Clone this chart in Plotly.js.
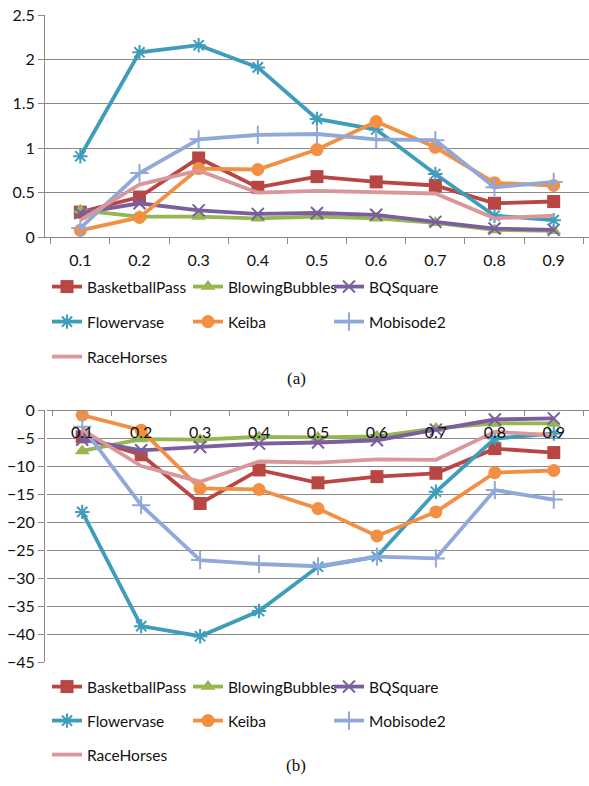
<!DOCTYPE html>
<html>
<head>
<meta charset="utf-8">
<script src="https://cdn.plot.ly/plotly-3.0.1.min.js"></script>
<style>html,body{margin:0;padding:0;background:#fff;}#chart{width:589px;height:786px;}</style>
</head>
<body>
<div id="chart"></div>
<script>
const categories = ['0.1','0.2','0.3','0.4','0.5','0.6','0.7','0.8','0.9'];
const seriesNames = ['BasketballPass','BlowingBubbles','BQSquare','Flowervase','Keiba','Mobisode2','RaceHorses'];

// (a) values
const aBasketballPass = [0.28,0.45,0.89,0.56,0.68,0.62,0.58,0.38,0.40];
const aBlowingBubbles = [0.30,0.23,0.23,0.21,0.23,0.21,0.16,0.08,0.07];
const aBQSquare       = [0.27,0.38,0.30,0.26,0.27,0.25,0.17,0.095,0.08];
const aFlowervase     = [0.91,2.08,2.16,1.91,1.33,1.21,0.71,0.24,0.19];
const aKeiba          = [0.075,0.22,0.77,0.76,0.985,1.30,1.01,0.61,0.58];
const aMobisode2      = [0.10,0.72,1.10,1.15,1.16,1.10,1.09,0.56,0.62];
const aRaceHorses     = [0.19,0.59,0.75,0.50,0.52,0.51,0.49,0.21,0.24];

// (b) values
const bBasketballPass = [-4.8,-8.0,-16.7,-10.7,-13.0,-11.9,-11.3,-6.9,-7.6];
const bBlowingBubbles = [-7.3,-5.2,-5.3,-4.8,-4.9,-4.7,-3.3,-2.4,-2.4];
const bBQSquare       = [-5.3,-7.2,-6.6,-6.0,-5.8,-5.4,-3.5,-1.7,-1.5];
const bFlowervase     = [-18.2,-38.6,-40.4,-35.9,-28.0,-26.2,-14.6,-5.1,-4.2];
const bKeiba          = [-0.9,-3.6,-14.0,-14.2,-17.6,-22.5,-18.2,-11.2,-10.8];
const bMobisode2      = [-3.0,-17.0,-26.8,-27.5,-27.9,-26.2,-26.5,-14.3,-16.0];
const bRaceHorses     = [-3.5,-10.0,-12.8,-9.2,-9.4,-8.8,-8.9,-3.9,-4.5];

const aData = [aBasketballPass,aBlowingBubbles,aBQSquare,aFlowervase,aKeiba,aMobisode2,aRaceHorses];
const bData = [bBasketballPass,bBlowingBubbles,bBQSquare,bFlowervase,bKeiba,bMobisode2,bRaceHorses];

const colors = ['#B84744','#96B652','#7A5E9E','#3E9DBB','#F28F42','#90A9D8','#D8979A'];
const styles = [
  {symbol:'square', size:13, open:false},
  {symbol:'triangle-up', size:13, open:false},
  {symbol:'x-thin-open', size:12, open:true},
  {symbol:'asterisk-open', size:12, open:true},
  {symbol:'circle', size:13, open:false},
  {symbol:'cross-thin-open', size:13, open:true},
  null
];
const rowOf = [0,0,0,1,1,1,2];

const W = 589, H = 786;
const traces = [];
function addTraces(data, xa, ya, legBase) {
  data.forEach((vals, i) => {
    const st = styles[i];
    const t = {
      type:'scatter', x:categories, y:vals, name:seriesNames[i],
      xaxis:xa, yaxis:ya,
      mode: st ? 'lines+markers' : 'lines',
      line:{color:colors[i], width:3.8},
      legend: legBase[rowOf[i]],
      hoverinfo:'skip'
    };
    if (st) {
      t.marker = st.open
        ? {symbol:st.symbol, size:st.size, color:colors[i], line:{color:colors[i], width:2}}
        : {symbol:st.symbol, size:st.size, color:colors[i], line:{width:0}};
    }
    traces.push(t);
  });
}
addTraces(aData,'x','y',['legend','legend2','legend3']);
addTraces(bData,'x2','y2',['legend4','legend5','legend6']);

const grid = '#8a8a8a';
const tickFont = {family:'Lato, "Liberation Sans", sans-serif', size:16, color:'#111'};
const legFont = {family:'Lato, "Liberation Sans", sans-serif', size:15.5, color:'#111'};

function py(px){ return 1 - px/H; }
function legendAt(ypx){
  return {orientation:'h', x:47/W, xanchor:'left', y:py(ypx), yanchor:'middle',
          entrywidth:96, entrywidthmode:'pixels', font:legFont, bgcolor:'rgba(0,0,0,0)',
          itemclick:false, itemdoubleclick:false, traceorder:'normal'};
}

const layout = {
  width:W, height:H,
  margin:{l:0,r:0,t:0,b:0},
  paper_bgcolor:'#fff', plot_bgcolor:'#fff',
  showlegend:true,
  xaxis:{type:'category', domain:[45/W,1], anchor:'y', tickson:'boundaries',
         ticks:'outside', ticklen:6, tickcolor:grid, showline:true, linecolor:grid,
         ticklabelstandoff:9,
         showgrid:false, tickfont:tickFont, fixedrange:true},
  yaxis:{domain:[py(237),py(15)], range:[0,2.5], dtick:0.5, showgrid:true,
         gridcolor:grid, ticks:'outside', ticklen:6, tickcolor:grid, showline:true,
         linecolor:grid, zeroline:false, tickfont:tickFont, fixedrange:true},
  xaxis2:{type:'category', domain:[47/W,1], anchor:'free', position:py(410), side:'bottom',
          tickson:'boundaries', ticks:'outside', ticklen:5, ticklabelstandoff:8,
          tickcolor:grid, showline:true, linecolor:grid, showgrid:false,
          tickfont:tickFont, fixedrange:true},
  yaxis2:{domain:[py(662),py(410)], range:[-45,0], dtick:5, showgrid:true,
          gridcolor:grid, ticks:'outside', ticklen:6, tickcolor:grid, showline:true,
          linecolor:grid, zeroline:false, tickfont:tickFont, fixedrange:true},
  legend: legendAt(287),
  legend2: legendAt(322),
  legend3: legendAt(357),
  legend4: legendAt(687),
  legend5: legendAt(721),
  legend6: legendAt(755),
  annotations:[
    {text:'(a)', xref:'paper', yref:'paper', x:296/W, y:py(378), showarrow:false,
     font:{family:'"Liberation Serif", serif', size:17, color:'#111'}},
    {text:'(b)', xref:'paper', yref:'paper', x:296/W, y:py(777), showarrow:false,
     font:{family:'"Liberation Serif", serif', size:17, color:'#111'}}
  ]
};

Plotly.newPlot('chart', traces, layout, {displayModeBar:false, staticPlot:true});
</script>
</body>
</html>
